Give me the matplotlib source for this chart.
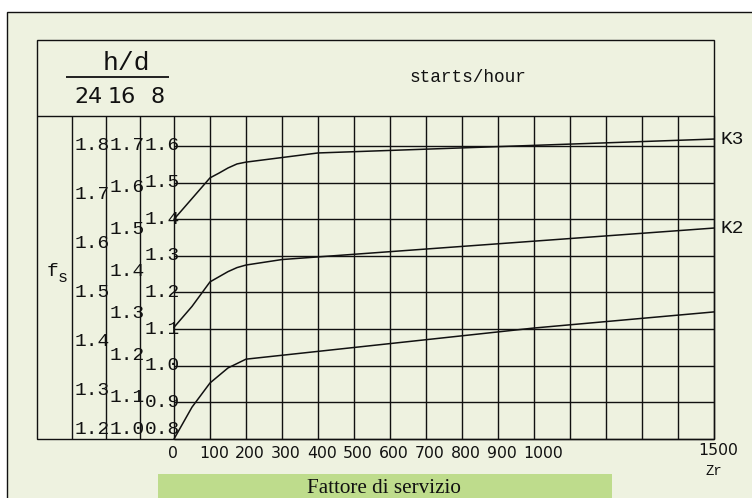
import matplotlib
matplotlib.use("Agg")
import matplotlib.pyplot as plt
from matplotlib.patches import Rectangle
from matplotlib.transforms import blended_transform_factory, offset_copy

# Dimensioni della figura in pixel
W, H = 752, 498

zr_k3 = [0, 100, 125, 150, 175, 200, 400, 1500]
fs_k3 = [1.400, 1.513, 1.526, 1.540, 1.551, 1.556, 1.581, 1.619]
zr_k2 = [0, 50, 100, 125, 150, 175, 200, 300, 1500]
fs_k2 = [1.105, 1.162, 1.229, 1.243, 1.257, 1.268, 1.275, 1.290, 1.376]
zr_k1 = [0, 50, 100, 150, 200, 1000, 1500]
fs_k1 = [0.800, 0.887, 0.953, 0.994, 1.018, 1.103, 1.147]

# Scale a sinistra (ore al giorno)
ore_giorno = ["24", "16", "8"]
scala_24 = [1.8, 1.7, 1.6, 1.5, 1.4, 1.3, 1.2]
scala_16 = [1.7, 1.6, 1.5, 1.4, 1.3, 1.2, 1.1, 1.0]
scala_8 = [1.6, 1.5, 1.4, 1.3, 1.2, 1.1, 1.0, 0.9, 0.8]
scale = [scala_24, scala_16, scala_8]

# Asse orizzontale
zr_ticks = [0, 100, 200, 300, 400, 500, 600, 700, 800, 900, 1000, 1500]
zr_griglia = list(range(0, 1501, 100))
fs_griglia = [0.8, 0.9, 1.0, 1.1, 1.2, 1.3, 1.4, 1.5, 1.6]

MONO = "Liberation Mono"
NERO = "#111111"
BEIGE = "#EEF2E0"
VERDE = "#BEDC8C"

fig = plt.figure(figsize=(W / 100, H / 100), dpi=100)
fig.patch.set_facecolor("white")

# Cornice in coordinate pixel
cadre = fig.add_axes([0, 0, 1, 1])
cadre.set_xlim(0, W)
cadre.set_ylim(H, 0)
cadre.axis("off")

cadre.add_patch(Rectangle((7, 12), 800, 600, facecolor=BEIGE, edgecolor=NERO, lw=1.0))
cadre.add_patch(Rectangle((37, 40), 677, 399, facecolor="none", edgecolor=NERO, lw=1.0))
cadre.hlines(116, 37, 714, color=NERO, lw=1.0)
cadre.vlines([72, 106, 140], 116, 439, color=NERO, lw=1.0)

# Intestazione
cadre.text(126, 63, "h/d", family=MONO, fontsize=19, ha="center", va="center", color=NERO)
cadre.hlines(77, 66, 169, color=NERO, lw=1.3)
for testo, xc in zip(ore_giorno, [89, 122, 158]):
    cadre.text(xc, 97, testo, family="DejaVu Sans", fontsize=16, ha="center", va="center", color=NERO)
cadre.text(468, 77, "starts/hour", family=MONO, fontsize=12.8, ha="center", va="center", color=NERO)

# f_s
cadre.text(53, 271, "f", family=MONO, fontsize=14, ha="center", va="center", color=NERO)
cadre.text(63, 277, "s", family=MONO, fontsize=12, ha="center", va="center", color=NERO)

# Area del grafico
ax = fig.add_axes([174 / W, 1 - 439 / H, 540 / W, 323 / H])
ax.set_xlim(0, 1500)
ax.set_ylim(0.8, 0.8 + 323 / 366.25)
ax.axis("off")
ax.patch.set_alpha(0)

ax.vlines(zr_griglia, 0.8, 0.8 + 323 / 366.25, color=NERO, lw=1.0, clip_on=False)
ax.hlines(fs_griglia, 0, 1500, color=NERO, lw=1.0, clip_on=False)

ax.plot(zr_k3, fs_k3, color=NERO, lw=1.1, clip_on=False)
ax.plot(zr_k2, fs_k2, color=NERO, lw=1.1, clip_on=False)
ax.plot(zr_k1, fs_k1, color=NERO, lw=1.1, clip_on=False)

fuori = offset_copy(ax.transData, fig=fig, x=6, y=0, units="dots")
ax.text(1500, fs_k3[-1], "K3", transform=fuori, family=MONO, fontsize=14, ha="left", va="center", color=NERO)
ax.text(1500, fs_k2[-1], "K2", transform=fuori, family=MONO, fontsize=14, ha="left", va="center", color=NERO)

# Etichette delle tre scale, riportate sulla scala 8 h/d
trans_scala = blended_transform_factory(cadre.transData, ax.transData)
for valori, x_col in zip(scale, [75, 110, 145]):
    vmin, vmax = min(valori), max(valori)
    for v in valori:
        m = 0.8 + (v - vmin) / (vmax - vmin) * 0.8
        m = max(m, 0.827)
        cadre.text(x_col, m, f"{v:.1f}", transform=trans_scala, family=MONO, fontsize=14,
                   ha="left", va="center", color=NERO)

# Etichette asse Zr
trans_x = blended_transform_factory(ax.transData, cadre.transData)
for t in zr_ticks:
    if t == 0:
        tr, ha, y = offset_copy(trans_x, fig=fig, x=-1, y=0, units="dots"), "center", 453
    elif t == 1500:
        tr, ha, y = offset_copy(trans_x, fig=fig, x=4, y=0, units="dots"), "center", 450
    else:
        tr, ha, y = offset_copy(trans_x, fig=fig, x=-11, y=0, units="dots"), "left", 453
    cadre.text(t, y, str(t), transform=tr, family="DejaVu Sans", fontsize=11.3,
               ha=ha, va="center", color=NERO)
cadre.text(714, 471, "Zr", family=MONO, fontsize=10, ha="center", va="center", color=NERO)

# Barra verde con il titolo
cadre.add_patch(Rectangle((158, 474), 454, 40, facecolor=VERDE, edgecolor="none"))
cadre.text(384, 497.5, "Fattore di servizio", family="Liberation Serif", fontsize=15.2,
           ha="center", va="bottom", color=NERO)

fig.savefig("out.png", dpi=100)
